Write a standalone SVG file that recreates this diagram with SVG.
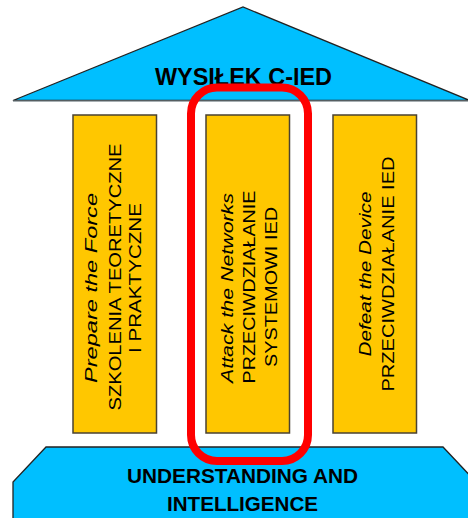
<svg xmlns="http://www.w3.org/2000/svg" width="468" height="518" viewBox="0 0 468 518">
  <style>
    .blue { fill: #00BFFF; stroke: #222; stroke-width: 1.3; stroke-linejoin: miter; }
    .pillar { fill: #FFC700; stroke: #4a4232; stroke-width: 1.5; }
    .head { font-family: "Liberation Sans", Arial, sans-serif; font-weight: bold; fill: #000; text-anchor: middle; }
    .lbl { font-family: "Liberation Sans", Arial, sans-serif; font-size: 16px; fill: #000; text-anchor: middle; }
    .it { font-style: italic; }
    .mark { fill: none; stroke: #FF0000; stroke-width: 8; }
  </style>

  <rect width="468" height="518" fill="#FFFFFF"/>

  <!-- roof -->
  <g id="roof">
    <polygon class="blue" points="13,100.5 243,7 470,100.5"/>
    <line x1="13" y1="101" x2="468" y2="101" stroke="#8a9aa0" stroke-width="1.2"/>
    <text class="head" x="243.5" y="85" font-size="24" textLength="177" lengthAdjust="spacingAndGlyphs">WYSIŁEK C-IED</text>
  </g>

  <!-- foundation -->
  <g id="foundation">
    <polygon class="blue" points="13,530 13,482 46,447 443,447 476,482 476,530"/>
    <text class="head" x="242.5" y="483" font-size="20" textLength="231" lengthAdjust="spacingAndGlyphs">UNDERSTANDING AND</text>
    <text class="head" x="242.5" y="511" font-size="20" textLength="151" lengthAdjust="spacingAndGlyphs">INTELLIGENCE</text>
  </g>

  <!-- left pillar -->
  <g id="pillar-prepare">
    <rect class="pillar" x="73" y="115" width="83.5" height="318"/>
    <text class="lbl it" transform="translate(97,288) rotate(-90)" textLength="190" lengthAdjust="spacingAndGlyphs">Prepare the Force</text>
    <text class="lbl" transform="translate(121,277) rotate(-90)" textLength="267" lengthAdjust="spacingAndGlyphs">SZKOLENIA TEORETYCZNE</text>
    <text class="lbl" transform="translate(141,278) rotate(-90)" textLength="150" lengthAdjust="spacingAndGlyphs">I PRAKTYCZNE</text>
  </g>

  <!-- middle pillar -->
  <g id="pillar-attack">
    <rect class="pillar" x="206" y="115" width="83.5" height="318"/>
    <text class="lbl it" transform="translate(233,288) rotate(-90)" textLength="190" lengthAdjust="spacingAndGlyphs">Attack the Networks</text>
    <text class="lbl" transform="translate(255,287) rotate(-90)" textLength="193" lengthAdjust="spacingAndGlyphs">PRZECIWDZIAŁANIE</text>
    <text class="lbl" transform="translate(277,287) rotate(-90)" textLength="160" lengthAdjust="spacingAndGlyphs">SYSTEMOWI IED</text>
  </g>

  <!-- right pillar -->
  <g id="pillar-defeat">
    <rect class="pillar" x="333" y="115" width="83.5" height="318"/>
    <text class="lbl it" transform="translate(371,274) rotate(-90)" textLength="165" lengthAdjust="spacingAndGlyphs">Defeat the Device</text>
    <text class="lbl" transform="translate(394,274) rotate(-90)" textLength="235" lengthAdjust="spacingAndGlyphs">PRZECIWDZIAŁANIE IED</text>
  </g>

  <!-- highlight around the middle pillar -->
  <g id="highlight">
    <rect class="mark" x="191" y="87.5" width="117" height="373.5" rx="26" ry="26"/>
  </g>

  <g id="connectors"/>
</svg>
